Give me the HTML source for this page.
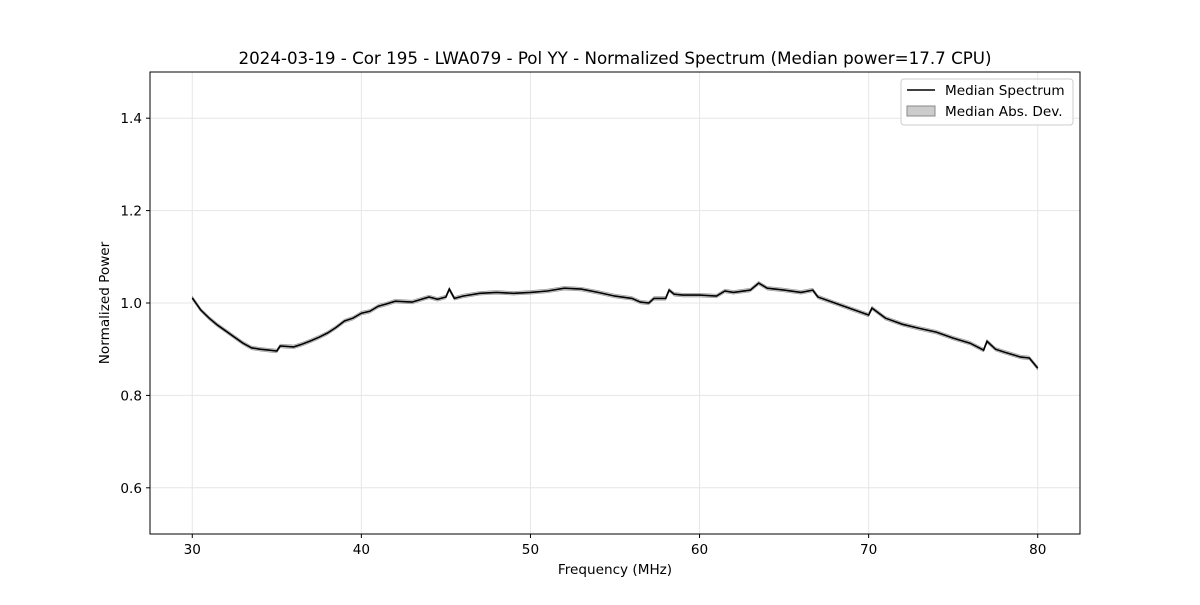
<!DOCTYPE html>
<html><head><meta charset="utf-8"><style>
body{margin:0;background:#fff;}
svg{font-family:"DejaVu Sans","Liberation Sans",sans-serif;}
</style></head><body>
<svg id="c" width="1200" height="600">
<rect width="1200" height="600" fill="#fff"/>
<g id="grid"></g>
<path id="band" fill="#999" fill-opacity="0.5" stroke="#888" stroke-width="0.5"/>
<path id="line" fill="none" stroke="#000" stroke-width="1.6"/>
<rect x="150" y="72" width="930" height="462" fill="none" stroke="#000" stroke-width="1"/>
<g id="ticks" font-size="13.6"></g>
<text x="615" y="64" text-anchor="middle" font-size="16.7">2024-03-19 - Cor 195 - LWA079 - Pol YY - Normalized Spectrum (Median power=17.7 CPU)</text>
<text x="615" y="574" text-anchor="middle" font-size="13.6">Frequency (MHz)</text>
<text transform="translate(109,303) rotate(-90)" text-anchor="middle" font-size="13.6">Normalized Power</text>
<g>
<rect x="901" y="79" width="172" height="46" rx="3" fill="#fff" fill-opacity="0.8" stroke="#ccc"/>
<line x1="907" y1="90" x2="935" y2="90" stroke="#000" stroke-width="1.6"/>
<text x="945" y="95" font-size="13.6">Median Spectrum</text>
<rect x="907" y="106" width="28" height="10" fill="#999" fill-opacity="0.5" stroke="#888"/>
<text x="945" y="116" font-size="13.6">Median Abs. Dev.</text>
</g>
</svg>
<script>
const freqs=[30,30.5,31,31.5,32,32.5,33,33.5,34,34.5,35,35.2,36,36.5,37,37.5,38,38.5,39,39.5,40,40.5,41,41.5,42,43,44,44.5,45,45.2,45.5,46,47,48,49,50,51,52,53,54,55,56,56.5,57,57.3,58,58.2,58.5,59,60,61,61.5,62,63,63.5,64,65,66,66.7,67,68,69,70,70.2,71,72,73,74,75,76,76.8,77,77.5,78,79,79.5,80];
const power=[1.011,0.985,0.967,0.952,0.939,0.926,0.913,0.903,0.900,0.898,0.896,0.907,0.905,0.911,0.918,0.926,0.935,0.947,0.961,0.967,0.978,0.982,0.993,0.998,1.004,1.002,1.013,1.008,1.013,1.030,1.010,1.015,1.021,1.023,1.021,1.023,1.026,1.032,1.030,1.023,1.015,1.010,1.002,1.000,1.010,1.010,1.028,1.019,1.017,1.017,1.015,1.026,1.023,1.028,1.043,1.032,1.028,1.023,1.028,1.013,1.000,0.987,0.974,0.989,0.967,0.954,0.945,0.937,0.924,0.913,0.898,0.917,0.900,0.894,0.883,0.881,0.859];
const mad=0.004;
const xTicks=[30,40,50,60,70,80];
const yTicks=[0.6,0.8,1.0,1.2,1.4];
const X=v=>150+(v-27.5)/55*930, Y=v=>534-(v-0.5)/1.0*462;
const ns='http://www.w3.org/2000/svg';
const grid=document.getElementById('grid'), tk=document.getElementById('ticks');
function mk(tag,attrs,parent){const e=document.createElementNS(ns,tag);for(const k in attrs)e.setAttribute(k,attrs[k]);parent.appendChild(e);return e;}
xTicks.forEach(t=>{const x=X(t);
 const g=mk('line',{x1:x,x2:x,y1:72,y2:534,stroke:'#e6e6e6'},grid);
 
 
 mk('line',{x1:x,x2:x,y1:534,y2:538,stroke:'#000'},tk);
 const tx=mk('text',{x:x,y:554,'text-anchor':'middle'},tk);tx.textContent=t;
 
 });
yTicks.forEach(t=>{const y=Y(t);
 const g=mk('line',{x1:150,x2:1080,y1:y,y2:y,stroke:'#e6e6e6'},grid);
 
 
 mk('line',{x1:146,x2:150,y1:y,y2:y,stroke:'#000'},tk);
 const tx=mk('text',{x:142,y:y+5,'text-anchor':'end'},tk);tx.textContent=t.toFixed(1);
 
 });
let d='';freqs.forEach((f,i)=>{d+=(i?'L':'M')+X(f).toFixed(1)+','+Y(power[i]).toFixed(1);});
document.getElementById('line').setAttribute('d',d);
let b='';freqs.forEach((f,i)=>{b+=(i?'L':'M')+X(f).toFixed(1)+','+Y(power[i]+mad).toFixed(1);});
for(let i=freqs.length-1;i>=0;i--)b+='L'+X(freqs[i]).toFixed(1)+','+Y(power[i]-mad).toFixed(1);
document.getElementById('band').setAttribute('d',b+'Z');
</script>
</body></html>
